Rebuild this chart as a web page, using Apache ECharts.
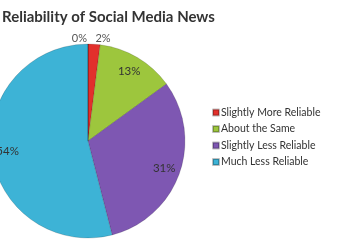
<!DOCTYPE html>
<html><head><meta charset="utf-8">
<script src="https://cdn.jsdelivr.net/npm/echarts@6/dist/echarts.min.js"></script>
<style>html,body{margin:0;padding:0;background:#fff;}#c{width:350px;height:250px;}</style>
</head><body><div id="c"></div>
<script>
const categories = ['Slightly More Reliable', 'About the Same', 'Slightly Less Reliable', 'Much Less Reliable', 'Much More Reliable'];
const values = [2, 13, 31, 54, 0];
const colors = ['#E2302C', '#9DC63D', '#7E57B2', '#3DB3D6', '#F0A030'];
const legendNames = categories.slice(0, 4);
const outsideLabels = ['Slightly More Reliable', 'Much More Reliable'];

const chart = echarts.init(document.getElementById('c'), null, {renderer: 'canvas'});
const mainData = categories.map((c, i) => ({
  name: c, value: values[i],
  itemStyle: {color: colors[i]},
  label: outsideLabels.includes(c) ? {show: true} : {show: false}
}));
const overlayData = categories.map((c, i) => ({
  name: c, value: values[i],
  label: outsideLabels.includes(c) ? {show: false} : {show: true}
}));
chart.setOption({
  animation: false,
  title: {text: 'Reliability of Social Media News', left: -3, top: 5,
    textStyle: {fontFamily: 'Lato', fontSize: 15, fontWeight: 'bold', color: '#333'}},
  legend: {data: legendNames, orient: 'vertical', left: 207, top: 102, itemWidth: 6, itemHeight: 6,
    itemGap: 5.5, icon: 'rect', textStyle: {fontFamily: 'Lato', fontSize: 10.5, color: '#333', padding: [0,0,0,-3]}},
  series: [{
    type: 'pie', center: [88, 141], radius: 97, startAngle: 90, clockwise: true,
    data: mainData,
    itemStyle: {borderColor: 'rgba(0,0,0,0.25)', borderWidth: 0.6},
    label: {position: 'outside', formatter: '{d}%', fontFamily: 'Lato', fontSize: 11, color: '#555', distanceToLabelLine: 1},
    labelLine: {show: false, length: 6, length2: 0},
    avoidLabelOverlap: false,
    emphasis: {disabled: true}
  }, {
    type: 'pie', center: [88, 141], radius: [64, 92], startAngle: 90, clockwise: true,
    data: overlayData, silent: true,
    itemStyle: {color: 'rgba(0,0,0,0)'},
    label: {position: 'inside', formatter: '{d}%', fontFamily: 'Lato', fontSize: 11.5, color: '#333'},
    labelLine: {show: false},
    emphasis: {disabled: true}
  }]
});
</script></body></html>
